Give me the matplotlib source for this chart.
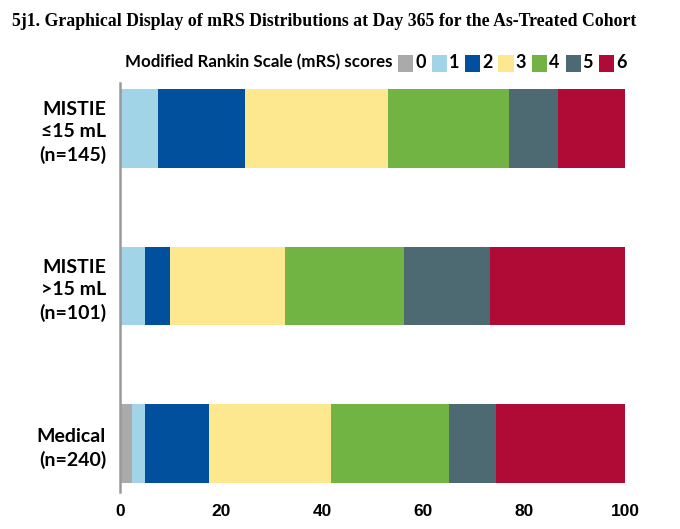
import numpy as np
import matplotlib
matplotlib.use("Agg")
import matplotlib.pyplot as plt
from matplotlib.patches import Rectangle

# percentages per mRS score
groups = ["MISTIE\n≤15 mL\n(n=145)", "MISTIE\n>15 mL\n(n=101)", "Medical\n(n=240)"]
scores = ["0", "1", "2", "3", "4", "5", "6"]
mistie_small = [0.0, 7.5, 17.3, 28.2, 24.1, 9.7, 13.2]
mistie_large = [0.0, 4.9, 5.0, 22.7, 23.7, 17.0, 26.7]
medical = [2.4, 2.5, 12.8, 24.1, 23.4, 9.3, 25.5]
colors = ["#aaaaaa", "#a2d4e7", "#00509e", "#fde890", "#72b443", "#4d6972", "#b00b36"]
xticks = [0, 20, 40, 60, 80, 100]

SANS = ["Lato", "DejaVu Sans"]
W, H = 680, 529

fig = plt.figure(figsize=(6.8, 5.29), dpi=100)
ax = fig.add_axes([120 / W, 1 - 492 / H, 505 / W, 409 / H])

data = np.array([mistie_small, mistie_large, medical])
ypos = np.array([2, 1, 0])
left = np.zeros(len(groups))
for i, col in enumerate(colors):
    ax.barh(ypos, data[:, i], left=left, height=0.5, color=col, linewidth=0)
    left += data[:, i]

ax.set_xlim(0, 100)
ax.set_ylim(-0.304, 2.285)
ax.set_xticks(xticks)
ax.set_xticklabels([str(t) for t in xticks], fontfamily="Liberation Sans",
                   fontweight="bold", fontsize=12.5)
ax.set_yticks(ypos)
ax.set_yticklabels(groups, fontfamily=SANS, fontweight="bold", fontsize=14,
                   linespacing=1.4)
ax.tick_params(axis="x", length=0, pad=9)
ax.tick_params(axis="y", length=0, pad=10)
for s in ["top", "right", "bottom"]:
    ax.spines[s].set_visible(False)
ax.spines["left"].set_color("#999999")
ax.spines["left"].set_linewidth(1.8)

fig.text(12 / W, 1 - 22 / H,
         "5j1. Graphical Display of mRS Distributions at Day 365 for the As-Treated Cohort",
         fontfamily="Liberation Serif", fontweight="bold", fontsize=12.8,
         ha="left", va="center")

# legend row, laid out by hand like the original
fig.text(393 / W, 1 - 62 / H, "Modified Rankin Scale (mRS) scores",
         fontfamily=SANS, fontweight="bold", fontsize=12.2, ha="right", va="center")
for i, (col, lab) in enumerate(zip(colors, scores)):
    x0 = 398 + 33.5 * i
    fig.add_artist(Rectangle((x0 / W, 1 - 72 / H), 15 / W, 17 / H,
                             transform=fig.transFigure, color=col, lw=0))
    fig.text((x0 + 17) / W, 1 - 63 / H, lab, fontfamily=SANS, fontweight="bold",
             fontsize=13, ha="left", va="center")

fig.savefig("out.png", dpi=100)
